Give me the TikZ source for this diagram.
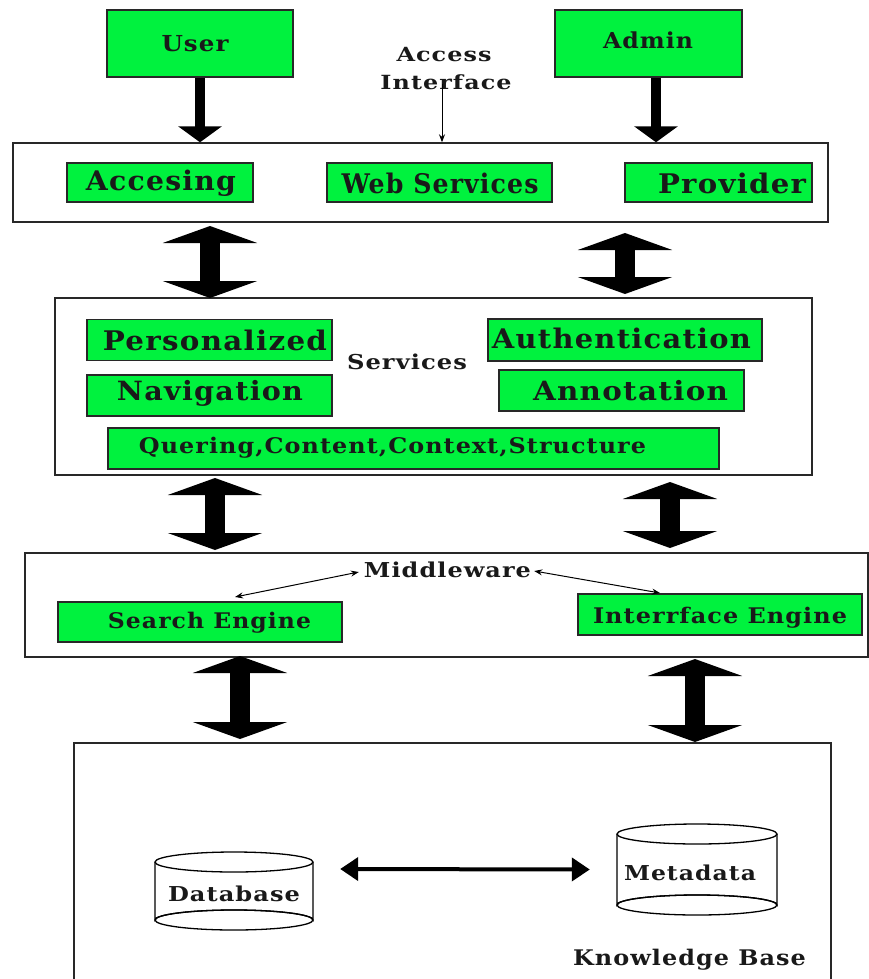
\documentclass[tikz,border=0pt]{standalone}
\usepackage{fontspec}
\usepackage{graphicx}
\setmainfont{DejaVu Serif Condensed}[LetterSpace=4]
\usetikzlibrary{arrows.meta}
\definecolor{gr}{RGB}{0,242,62}
\definecolor{bd}{RGB}{40,40,40}
\newcommand\tx[3]{\fontsize{#1pt}{#1pt}\selectfont\bfseries\resizebox{#2pt}{\height}{#3}}
\tikzset{
  gbox/.style={draw=bd,line width=1.6pt,fill=gr,inner sep=0pt},
  obox/.style={draw=bd,line width=1.4pt,fill=white,inner sep=0pt},
  lbl/.style={inner sep=0pt,text=black!90},
  single/.style={line width=10pt,-{Triangle[width=43pt,length=16pt]}},
  dbl/.style={line width=20pt,{Triangle[width=94pt,length=17pt]}-{Triangle[width=94pt,length=17pt]}},
  thin/.style={line width=1pt,-{Stealth[length=8pt,width=6pt]}},
  thinb/.style={line width=1pt,{Stealth[length=8pt,width=6pt]}-{Stealth[length=8pt,width=6pt]}},
}
\begin{document}
\begin{tikzpicture}[x=1pt,y=-1pt]
\clip (0,0) rectangle (869,979);
\fill[white] (0,0) rectangle (869,979);
% top actors
\node[gbox,minimum width=186pt,minimum height=67pt] (user) at (200,43.5) {};
\node[lbl] (usert) at (195,44) {\tx{22}{67}{User}};
\node[gbox,minimum width=187pt,minimum height=67pt] (admin) at (648.5,43.5) {};
\node[lbl] (admint) at (648,40) {\tx{22}{90}{Admin}};
\node[lbl] (ai1) at (444,55) {\tx{19.5}{95}{Access}};
\node[lbl] (ai2) at (446,82) {\tx{19.5}{131}{Interface}};
% access layer
\node[obox,minimum width=815pt,minimum height=79pt] (acc) at (420.5,182.5) {};
\node[gbox,minimum width=186pt,minimum height=39pt] (accs) at (160,182.5) {};
\node[lbl] at (161,183) {\tx{27}{150}{Accesing}};
\node[gbox,minimum width=225pt,minimum height=39pt] (web) at (439.5,182.5) {};
\node[lbl] at (440,183) {\tx{27}{197}{Web Services}};
\node[gbox,minimum width=187pt,minimum height=39pt] (prov) at (718.5,182.5) {};
\node[lbl] at (732,183) {\tx{27}{148}{Provider}};
% services layer
\node[obox,minimum width=757pt,minimum height=177pt] (srv) at (433.5,386.5) {};
\node[lbl] (srvt) at (407,362) {\tx{20.5}{120}{Services}};
\node[gbox,minimum width=245pt,minimum height=41pt] (pers) at (209.5,340) {};
\node[lbl] at (215,340) {\tx{27}{224}{Personalized}};
\node[gbox,minimum width=245pt,minimum height=41pt] (nav) at (209.5,395.5) {};
\node[lbl] at (210,393) {\tx{26.5}{186}{Navigation}};
\node[gbox,minimum width=274pt,minimum height=42pt] (auth) at (625,340) {};
\node[lbl] at (621.5,338) {\tx{27}{259}{Authentication}};
\node[gbox,minimum width=245pt,minimum height=41pt] (anno) at (621.5,390.5) {};
\node[lbl] at (630.5,391) {\tx{26.5}{195}{Annotation}};
\node[gbox,minimum width=611pt,minimum height=41pt] (quer) at (413.5,448.5) {};
\node[lbl] at (392.5,448) {\tx{21.5}{507}{Quering,Content,Context,Structure}};
% middleware layer
\node[obox,minimum width=843pt,minimum height=104pt] (mw) at (446.5,605) {};
\node[lbl] (mwt) at (447.5,570) {\tx{20.5}{167}{Middleware}};
\node[gbox,minimum width=284pt,minimum height=40pt] (se) at (200,622) {};
\node[lbl] at (209.5,623) {\tx{21.5}{203}{Search Engine}};
\node[gbox,minimum width=284pt,minimum height=41pt] (ie) at (720,614.5) {};
\node[lbl] at (720,618) {\tx{21.5}{254}{Interrface Engine}};
% knowledge base
\node[obox,minimum width=757pt,minimum height=247pt] (kb) at (452.5,866.5) {};
\node[lbl] (kbt) at (689.5,960) {\tx{21.5}{233}{Knowledge Base}};
% cylinders
\draw[line width=1.3pt,fill=white] (155,862) -- (155,920) arc[start angle=180,end angle=360,x radius=79pt,y radius=-10pt] -- (313,862);
\draw[line width=1.3pt] (234,920) ellipse[x radius=79pt,y radius=10pt];
\draw[line width=1.3pt,fill=white] (234,862) ellipse[x radius=79pt,y radius=10pt];
\node[lbl,minimum width=158pt,minimum height=78pt] (db) at (234,891) {};
\node[lbl] at (234,894) {\tx{20.5}{132}{Database}};
\draw[line width=1.3pt,fill=white] (617,834) -- (617,905) arc[start angle=180,end angle=360,x radius=80pt,y radius=-10pt] -- (777,834);
\draw[line width=1.3pt] (697,905) ellipse[x radius=80pt,y radius=10pt];
\draw[line width=1.3pt,fill=white] (697,834) ellipse[x radius=80pt,y radius=10pt];
\node[lbl,minimum width=160pt,minimum height=91pt] (md) at (697,869.5) {};
\node[lbl] at (690,873) {\tx{20.5}{132}{Metadata}};
\draw[line width=4pt,{Triangle[width=23pt,length=18pt]}-{Triangle[width=23pt,length=18pt]}] ([xshift=27pt,yshift=22pt]db.east) -- ([xshift=-27pt]md.west);
% column coordinates
\coordinate (xa) at (200,0);
\coordinate (xb) at (656,0);
\coordinate (xc) at (442,0);
% single arrows
\draw[single] (user.south -| xa) -- (acc.north -| xa);
\draw[single] (admin.south -| xb) -- (acc.north -| xb);
\draw[thin] ([yshift=6pt]ai2.south -| xc) -- (acc.north -| xc);
% double arrows
\draw[dbl] (210,226) -- (210,298);
\draw[dbl] (625,233) -- (625,294);
\draw[dbl] (215,478) -- (215,550);
\draw[dbl] (670,482) -- (670,548);
\draw[dbl] (240,656) -- (240,739);
\draw[dbl] (695,659) -- (695,742);
% middleware links
\draw[thinb] ([xshift=-5pt,yshift=-2pt]mwt.west) -- (235,597);
\draw[thinb] ([xshift=3pt,yshift=-1pt]mwt.east) -- (660,593);
\end{tikzpicture}
\end{document}
